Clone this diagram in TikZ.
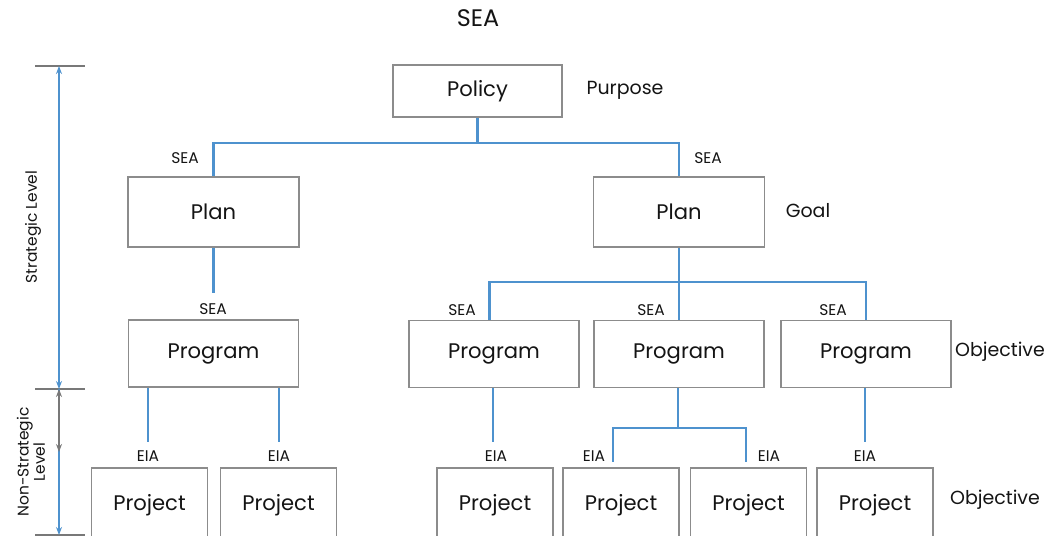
\documentclass[tikz,border=0pt]{standalone}
\usepackage{fontspec}
\setmainfont{Poppins}
\usetikzlibrary{arrows.meta, positioning}

\definecolor{linkblue}{RGB}{78,146,206}
\definecolor{boxgrey}{RGB}{140,140,140}
\definecolor{inkgrey}{RGB}{20,20,20}
\definecolor{tickgrey}{RGB}{120,120,120}

\begin{document}
\begin{tikzpicture}[
    x=0.025cm, y=-0.025cm,
    >={Stealth[length=2mm]},
    box/.style={rectangle, draw=boxgrey, line width=0.8pt, inner sep=0pt, text=inkgrey, font=\fontsize{15}{17}\selectfont},
    policybox/.style={box, minimum width=4.225cm, minimum height=1.3cm},
    planbox/.style={box, minimum width=4.275cm, minimum height=1.75cm},
    progbox/.style={box, minimum width=4.25cm, minimum height=1.675cm},
    projbox/.style={box, minimum width=2.9cm, minimum height=1.85cm},
    tag/.style={font=\fontsize{11}{13}\selectfont, text=inkgrey, inner sep=1pt},
    aim/.style={font=\fontsize{13.5}{15}\selectfont, text=inkgrey},
    levellabel/.style={font=\fontsize{11}{12.5}\selectfont, text=inkgrey, rotate=90, align=center},
    link/.style={draw=linkblue, line width=2pt},
    tick/.style={draw=tickgrey, line width=1.2pt},
    scaleline/.style={draw=linkblue, line width=1.4pt},
]
    \useasboundingbox (0,0) rectangle (1051,536);

    % Title and boxes
    \node[font=\fontsize{17}{19}\selectfont, text=inkgrey] (title) at (478,18) {SEA};
    \node[policybox] (policy) at (477.5,91) {Policy};
    \node[aim] (purpose) at (625,90) {Purpose};

    \node[planbox] (planL) at (213.5,212) {Plan};
    \node[planbox] (planR) at (679,212) {Plan};
    \node[aim] (goal) at (808,211) {Goal};

    \node[progbox] (progL) at (213.5,353.5) {Program};
    \node[progbox] (prog1) at (494,354) {Program};
    \node[progbox] (prog2) at (679,354) {Program};
    \node[progbox] (prog3) at (866,354) {Program};
    \node[aim] (objProg) at (1000,352) {Objective};

    \node[projbox] (projA) at (149.5,505) {Project};
    \node[projbox] (projB) at (278.5,505) {Project};
    \node[projbox] (projC) at (495,505) {Project};
    \node[projbox] (projD) at (621,505) {Project};
    \node[projbox] (projE) at (748.5,505) {Project};
    \node[projbox] (projF) at (875,505) {Project};
    \node[aim] (objProj) at (995,500) {Objective};

    % Junctions and open ends
    \coordinate (jPolicy) at (477.5,143);
    \coordinate (jPlanR) at (679,282);
    \coordinate (jProg2) at (678,428);
    \coordinate (ePlanL) at (213.5,293);
    \coordinate (eA) at (148,442);
    \coordinate (eB) at (279,442);
    \coordinate (eC) at (493,442);
    \coordinate (eD) at (613,462);
    \coordinate (eE) at (746,462);
    \coordinate (eF) at (865,442);

    % Connectors
    \draw[link] (policy) -- (jPolicy);
    \draw[link] (planL.north) |- (jPolicy) -| (planR.north);
    \draw[link] (planL) -- (ePlanL);
    \draw[link] (planR) -- (jPlanR);
    \draw[link] ([xshift=-0.12cm]prog1.north) |- (jPlanR) -| (prog3.north);
    \draw[link] (jPlanR) -- (prog2.north);
    \draw[link] (progL.south -| eA) -- (eA);
    \draw[link] (progL.south -| eB) -- (eB);
    \draw[link] (prog1.south -| eC) -- (eC);
    \draw[link] (prog2.south -| jProg2) -- (jProg2);
    \draw[link] (eD) |- (jProg2) -| (eE);
    \draw[link] (prog3.south -| eF) -- (eF);

    % SEA / EIA tags
    \node[tag] (seaPlanL) at (185,158) {SEA};
    \node[tag] (seaPlanR) at (708,158) {SEA};
    \node[tag] (seaProgL) at (213,309) {SEA};
    \node[tag] (seaProg1) at (462,310) {SEA};
    \node[tag] (seaProg2) at (651,310) {SEA};
    \node[tag] (seaProg3) at (833,310) {SEA};
    \node[tag] (eiaA) at (148,456) {EIA};
    \node[tag] (eiaB) at (279,456) {EIA};
    \node[tag] (eiaC) at (496,456) {EIA};
    \node[tag] (eiaD) at (594,456) {EIA};
    \node[tag] (eiaE) at (769,456) {EIA};
    \node[tag] (eiaF) at (865,456) {EIA};

    % Level scale
    \coordinate (sTop) at (59,66);
    \coordinate (sMid) at (59,389);
    \coordinate (sBot) at (59,535);
    \coordinate (sGrey) at (59,452);
    \draw[tick] (35,66) -- (85,66);
    \draw[tick] (35,389) -- (85,389);
    \draw[tick] (35,535) -- (85,535);
    \draw[scaleline, <->] (sTop) -- (sMid);
    \draw[scaleline, ->] (sMid) -- (sBot);
    \draw[scaleline, draw=tickgrey, fill=tickgrey, <->] (sMid) -- (sGrey);
    \node[levellabel] (strategic) at (33,227) {Strategic Level};
    \node[levellabel] (nonstrategic) at (31,462) {Non-Strategic\\[-1pt]Level};
\end{tikzpicture}
\end{document}
